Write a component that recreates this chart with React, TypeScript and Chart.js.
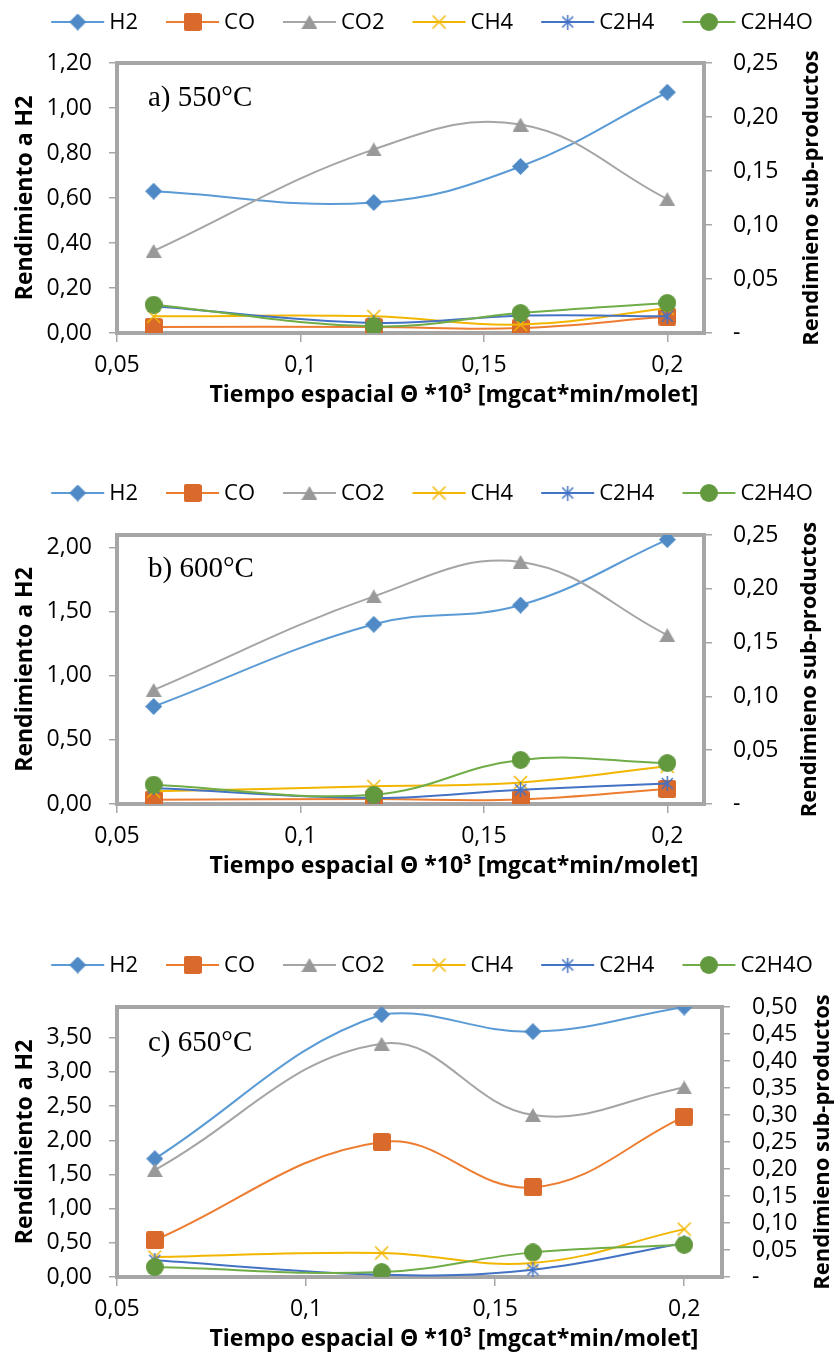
import React, { useEffect, useRef } from 'react';
import { Chart, registerables } from 'chart.js';

Chart.register(...registerables);

// ---------- DATA ----------
const xValues = [0.06, 0.12, 0.16, 0.2];
const xTickValues = [0.05, 0.1, 0.15, 0.2];
const xTickLabels = ['0,05', '0,1', '0,15', '0,2'];
const seriesNames = ['H2', 'CO', 'CO2', 'CH4', 'C2H4', 'C2H4O'];

// a) 550 °C
const h2_550 = [0.63, 0.58, 0.74, 1.07];
const co_550 = [0.0056, 0.0056, 0.0046, 0.0152];
const co2_550 = [0.076, 0.17, 0.193, 0.124];
const ch4_550 = [0.0154, 0.0154, 0.0078, 0.023];
const c2h4_550 = [0.0247, 0.0093, 0.016, 0.0154];
const c2h4o_550 = [0.0262, 0.0062, 0.0185, 0.0278];

// b) 600 °C
const h2_600 = [0.76, 1.4, 1.55, 2.06];
const co_600 = [0.004, 0.0046, 0.0042, 0.014];
const co2_600 = [0.106, 0.193, 0.225, 0.157];
const ch4_600 = [0.0118, 0.0164, 0.02, 0.035];
const c2h4_600 = [0.0149, 0.0056, 0.0133, 0.019];
const c2h4o_600 = [0.018, 0.0087, 0.041, 0.038];

// c) 650 °C
const h2_650 = [1.73, 3.84, 3.59, 3.95];
const co_650 = [0.068, 0.25, 0.166, 0.297];
const co2_650 = [0.198, 0.432, 0.3, 0.351];
const ch4_650 = [0.037, 0.0445, 0.026, 0.0887];
const c2h4_650 = [0.031, 0.0043, 0.0135, 0.063];
const c2h4o_650 = [0.0185, 0.0092, 0.0456, 0.0597];

const leftTicksA = [0, 0.2, 0.4, 0.6, 0.8, 1.0, 1.2];
const leftTicksB = [0, 0.5, 1.0, 1.5, 2.0];
const leftTicksC = [0, 0.5, 1.0, 1.5, 2.0, 2.5, 3.0, 3.5];
const rightTicksAB = [0, 0.05, 0.1, 0.15, 0.2, 0.25];
const rightTicksC = [0, 0.05, 0.1, 0.15, 0.2, 0.25, 0.3, 0.35, 0.4, 0.45, 0.5];

const panelLabels = ['a) 550°C', 'b) 600°C', 'c) 650°C'];
const leftTitle = 'Rendimiento a H2';
const rightTitle = 'Rendimieno sub-productos';
const xTitle = 'Tiempo espacial Θ *10³ [mgcat*min/molet]';

// ---------- STYLE ----------
const FONT = '"Open Sans", "Noto Sans", sans-serif';
const FRAME = '#A6A6A6';
const styles = [
  { line: '#5B9BD5', marker: '#4F8AC6', kind: 'diamond' },
  { line: '#ED7D31', marker: '#D96A2B', kind: 'square' },
  { line: '#A5A5A5', marker: '#999999', kind: 'triangle' },
  { line: '#F2B600', marker: '#F2B600', kind: 'cross' },
  { line: '#4472C4', marker: '#4472C4', kind: 'star' },
  { line: '#70AD47', marker: '#62993E', kind: 'circle' },
];

function makeMarker(kind: string, color: string): HTMLCanvasElement {
  const c = document.createElement('canvas');
  let w = 18, h = 18;
  if (kind === 'diamond') { w = 17; h = 17; }
  if (kind === 'triangle') { w = 16; h = 14; }
  if (kind === 'cross' || kind === 'star') { w = 15; h = 15; }
  c.width = w; c.height = h;
  const ctx = c.getContext('2d')!;
  ctx.fillStyle = color;
  ctx.strokeStyle = color;
  if (kind === 'diamond') {
    ctx.beginPath();
    ctx.moveTo(w / 2, 0); ctx.lineTo(w, h / 2); ctx.lineTo(w / 2, h); ctx.lineTo(0, h / 2);
    ctx.closePath(); ctx.fill();
  } else if (kind === 'square') {
    const r = 2.5;
    ctx.beginPath();
    ctx.moveTo(r, 0); ctx.lineTo(w - r, 0); ctx.quadraticCurveTo(w, 0, w, r);
    ctx.lineTo(w, h - r); ctx.quadraticCurveTo(w, h, w - r, h);
    ctx.lineTo(r, h); ctx.quadraticCurveTo(0, h, 0, h - r);
    ctx.lineTo(0, r); ctx.quadraticCurveTo(0, 0, r, 0);
    ctx.closePath(); ctx.fill();
  } else if (kind === 'triangle') {
    ctx.beginPath();
    ctx.moveTo(w / 2, 0); ctx.lineTo(w, h); ctx.lineTo(0, h);
    ctx.closePath(); ctx.fill();
  } else if (kind === 'circle') {
    ctx.beginPath();
    ctx.arc(w / 2, h / 2, w / 2, 0, Math.PI * 2);
    ctx.fill();
  } else if (kind === 'cross') {
    ctx.lineWidth = 1.5;
    ctx.beginPath();
    ctx.moveTo(1, 1); ctx.lineTo(w - 1, h - 1);
    ctx.moveTo(w - 1, 1); ctx.lineTo(1, h - 1);
    ctx.stroke();
  } else if (kind === 'star') {
    ctx.lineWidth = 1.5;
    ctx.beginPath();
    ctx.moveTo(2, 2); ctx.lineTo(w - 2, h - 2);
    ctx.moveTo(w - 2, 2); ctx.lineTo(2, h - 2);
    ctx.moveTo(w / 2, 0); ctx.lineTo(w / 2, h);
    ctx.stroke();
  }
  return c;
}

const fmt2 = (v: number) => v.toFixed(2).replace('.', ',');

const decorPlugin = {
  id: 'decor',
  beforeDatasetsDraw(chart: any) {
    const { ctx, chartArea } = chart;
    ctx.save();
    ctx.strokeStyle = FRAME;
    ctx.lineWidth = 4;
    ctx.strokeRect(chartArea.left, chartArea.top, chartArea.right - chartArea.left, chartArea.bottom - chartArea.top);
    ctx.restore();
  },
  afterDraw(chart: any, _args: any, opts: any) {
    const { ctx, chartArea } = chart;
    const midY = (chartArea.top + chartArea.bottom) / 2;
    ctx.save();
    // legend
    ctx.font = `22px ${FONT}`;
    ctx.textBaseline = 'middle';
    ctx.textAlign = 'left';
    const lineLen = 53, textGap = 5, itemGap = 28;
    const widths = seriesNames.map((n) => lineLen + textGap + ctx.measureText(n).width);
    const total = widths.reduce((a, b) => a + b, 0) + itemGap * (seriesNames.length - 1);
    let x = opts.legendCx - total / 2;
    const ly = opts.legendY;
    seriesNames.forEach((n, i) => {
      const st = styles[i];
      ctx.strokeStyle = st.line;
      ctx.lineWidth = 2;
      ctx.beginPath();
      ctx.moveTo(x, ly); ctx.lineTo(x + lineLen, ly);
      ctx.stroke();
      const m = opts.markers[i];
      ctx.drawImage(m, x + lineLen / 2 - m.width / 2, ly - m.height / 2);
      ctx.fillStyle = '#000';
      ctx.fillText(n, x + lineLen + textGap, ly + 1);
      x += widths[i] + itemGap;
    });
    // panel label
    ctx.font = `29px "Liberation Serif", "Times New Roman", serif`;
    ctx.fillStyle = '#000';
    ctx.textBaseline = 'middle';
    ctx.fillText(opts.label, 148, chartArea.top + opts.labelDy);
    // axis titles
    ctx.font = `bold 23px ${FONT}`;
    ctx.textAlign = 'center';
    ctx.fillText(xTitle, opts.xTitleCx, chartArea.bottom + opts.xTitleDy);
    ctx.save();
    ctx.translate(25, midY);
    ctx.rotate(-Math.PI / 2);
    ctx.fillText(leftTitle, 0, 0);
    ctx.restore();
    ctx.font = `bold 22px ${FONT}`;
    ctx.save();
    ctx.translate(opts.rightTitleX, midY);
    ctx.rotate(-Math.PI / 2);
    ctx.fillText(rightTitle, 0, 0);
    ctx.restore();
    ctx.restore();
  },
};

type Panel = {
  label: string;
  top: number;
  height: number;
  areaTop: number;
  areaBottom: number;
  areaRight: number;
  leftMax: number;
  leftTicks: number[];
  rightMax: number;
  rightTicks: number[];
  rightPad: number;
  rightTitleX: number;
  legendY: number;
  labelDy: number;
  xTitleDy: number;
  series: number[][];
};

const W = 835;

const panels: Panel[] = [
  {
    label: panelLabels[0], top: 0, height: 430, areaTop: 63, areaBottom: 333, areaRight: 704,
    leftMax: 1.2, leftTicks: leftTicksA, rightMax: 0.25, rightTicks: rightTicksAB, rightPad: 21,
    rightTitleX: 812, legendY: 22, labelDy: 35, xTitleDy: 62,
    series: [h2_550, co_550, co2_550, ch4_550, c2h4_550, c2h4o_550],
  },
  {
    label: panelLabels[1], top: 470, height: 430, areaTop: 65, areaBottom: 334, areaRight: 704,
    leftMax: 2.096, leftTicks: leftTicksB, rightMax: 0.25, rightTicks: rightTicksAB, rightPad: 21,
    rightTitleX: 810, legendY: 23, labelDy: 34, xTitleDy: 62,
    series: [h2_600, co_600, co2_600, ch4_600, c2h4_600, c2h4o_600],
  },
  {
    label: panelLabels[2], top: 935, height: 418, areaTop: 72, areaBottom: 342, areaRight: 722,
    leftMax: 3.95, leftTicks: leftTicksC, rightMax: 0.5, rightTicks: rightTicksC, rightPad: 22,
    rightTitleX: 823, legendY: 30, labelDy: 36, xTitleDy: 62,
    series: [h2_650, co_650, co2_650, ch4_650, c2h4_650, c2h4o_650],
  },
];

function PanelChart({ p }: { p: Panel }) {
  const ref = useRef<HTMLCanvasElement | null>(null);
  useEffect(() => {
    if (!ref.current) return;
    const markers = styles.map((s) => makeMarker(s.kind, s.marker));
    const datasets = seriesNames.map((name, i) => ({
      label: name,
      data: xValues.map((x, j) => ({ x, y: p.series[i][j] })),
      yAxisID: i === 0 ? 'yL' : 'yR',
      borderColor: styles[i].line,
      backgroundColor: styles[i].marker,
      borderWidth: 2,
      pointStyle: markers[i],
      pointRadius: 9,
      tension: 0.4,
      order: seriesNames.length - i,
    }));
    const tickFont = { family: FONT, size: 23 };
    const gridOpts = {
      display: true,
      drawOnChartArea: false,
      drawTicks: true,
      tickLength: 8,
      color: FRAME,
      lineWidth: 1.5,
    };
    const chart = new Chart(ref.current, {
      type: 'line',
      data: { datasets },
      plugins: [decorPlugin],
      options: {
        responsive: false,
        animation: false,
        events: [],
        layout: { padding: { top: p.areaTop, left: 0, right: 0, bottom: 0 } },
        plugins: {
          legend: { display: false },
          tooltip: { enabled: false },
          decor: {
            markers,
            label: p.label,
            legendCx: 432,
            legendY: p.legendY,
            labelDy: p.labelDy,
            xTitleCx: 454,
            xTitleDy: p.xTitleDy,
            rightTitleX: p.rightTitleX,
          },
        } as any,
        scales: {
          x: {
            type: 'linear',
            min: 0.05,
            max: 0.21,
            afterBuildTicks: (s: any) => { s.ticks = xTickValues.map((v) => ({ value: v })); },
            afterFit: (s: any) => { s.height = p.height - p.areaBottom; },
            ticks: {
              font: tickFont,
              color: '#000',
              padding: 10,
              autoSkip: false,
              maxRotation: 0,
              callback: (_v: any, i: number) => xTickLabels[i],
            },
            grid: { ...gridOpts, tickLength: 9 },
            border: { display: false },
          },
          yL: {
            type: 'linear',
            position: 'left',
            min: 0,
            max: p.leftMax,
            afterBuildTicks: (s: any) => { s.ticks = p.leftTicks.map((v) => ({ value: v })); },
            afterFit: (s: any) => { s.width = 117; },
            ticks: {
              font: tickFont,
              color: '#000',
              padding: 17,
              autoSkip: false,
              callback: (v: any) => fmt2(Number(v)),
            },
            grid: gridOpts,
            border: { display: false },
          },
          yR: {
            type: 'linear',
            position: 'right',
            min: 0,
            max: p.rightMax,
            afterBuildTicks: (s: any) => { s.ticks = p.rightTicks.map((v) => ({ value: v })); },
            afterFit: (s: any) => { s.width = W - p.areaRight; },
            ticks: {
              font: tickFont,
              color: '#000',
              padding: p.rightPad,
              autoSkip: false,
              callback: (v: any) => (Number(v) === 0 ? '-' : fmt2(Number(v))),
            },
            grid: gridOpts,
            border: { display: false },
          },
        },
      } as any,
    });
    return () => chart.destroy();
  }, [p]);
  return (
    <canvas
      ref={ref}
      width={W}
      height={p.height}
      style={{ position: 'absolute', left: 0, top: p.top, width: W, height: p.height }}
    />
  );
}

export default function App() {
  return (
    <div style={{ position: 'absolute', left: 0, top: 0, width: W, height: 1353, background: '#fff' }}>
      {panels.map((p, i) => (
        <PanelChart key={i} p={p} />
      ))}
    </div>
  );
}
